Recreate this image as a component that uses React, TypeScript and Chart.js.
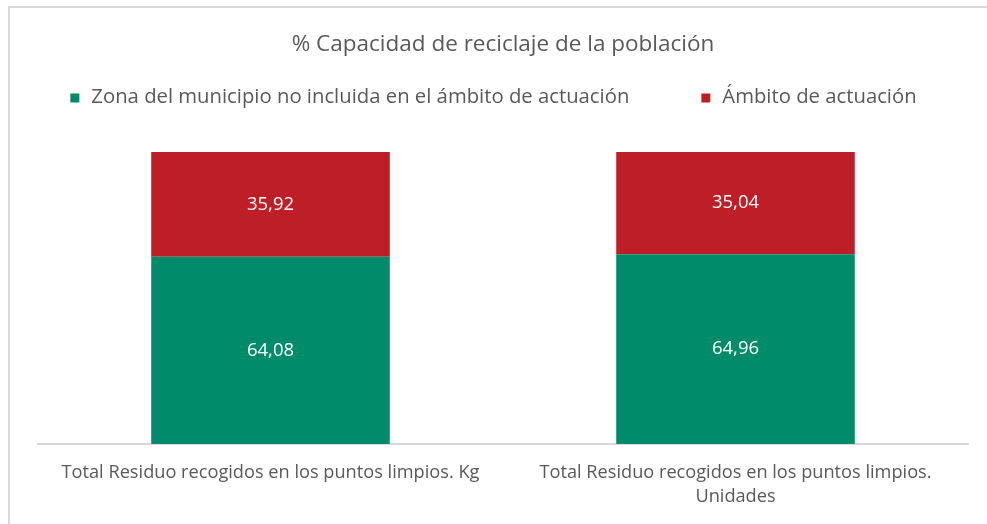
import React, { useEffect, useRef } from "react";
import { Chart, registerables } from "chart.js";

Chart.register(...registerables);

const categories: (string | string[])[] = [
  "Total Residuo recogidos en los puntos limpios. Kg",
  ["Total Residuo recogidos en los puntos limpios.", "Unidades"],
];
const seriesNames = [
  "Zona del municipio no incluida en el ámbito de actuación",
  "Ámbito de actuación",
];
const zonaValues = [64.08, 64.96];
const ambitoValues = [35.92, 35.04];
const seriesColors = ["#008B6A", "#BE1F26"];
const titleText = "% Capacidad de reciclaje de la población";

const FONT = "'Open Sans', sans-serif";

const valueLabels = {
  id: "valueLabels",
  afterDatasetsDraw(chart: any) {
    const ctx = chart.ctx;
    ctx.save();
    ctx.fillStyle = "#ffffff";
    ctx.font = `18.5px ${FONT}`;
    ctx.textAlign = "center";
    ctx.textBaseline = "middle";
    chart.data.datasets.forEach((ds: any, i: number) => {
      const meta = chart.getDatasetMeta(i);
      meta.data.forEach((bar: any, j: number) => {
        const v = ds.data[j] as number;
        const y = (bar.y + bar.base) / 2;
        ctx.fillText(v.toFixed(2).replace(".", ","), bar.x, y);
      });
    });
    ctx.restore();
  },
};

const customLegend = {
  id: "customLegend",
  afterDraw(chart: any) {
    const ctx = chart.ctx;
    const box = 9;
    const gapText = 12;
    const gapItems = 72;
    ctx.save();
    ctx.font = `20.3px ${FONT}`;
    ctx.textBaseline = "middle";
    ctx.textAlign = "left";
    const widths = seriesNames.map((n) => box + gapText + ctx.measureText(n).width);
    const total = widths.reduce((a, b) => a + b, 0) + gapItems * (widths.length - 1);
    let x = chart.width / 2 - total / 2;
    const y = chart.chartArea.top - 55;
    seriesNames.forEach((n, i) => {
      ctx.fillStyle = seriesColors[i];
      ctx.fillRect(x, y - box / 2 + 1, box, box);
      ctx.fillStyle = "#595959";
      ctx.fillText(n, x + box + gapText, y);
      x += widths[i] + gapItems;
    });
    ctx.restore();
  },
};

export default function App() {
  const ref = useRef<HTMLCanvasElement>(null);
  useEffect(() => {
    if (!ref.current) return;
    const chart = new Chart(ref.current, {
      type: "bar",
      data: {
        labels: categories,
        datasets: [
          {
            label: seriesNames[0],
            data: zonaValues,
            backgroundColor: seriesColors[0],
            categoryPercentage: 1,
            barPercentage: 0.513,
          },
          {
            label: seriesNames[1],
            data: ambitoValues,
            backgroundColor: seriesColors[1],
            categoryPercentage: 1,
            barPercentage: 0.513,
          },
        ],
      },
      options: {
        animation: false,
        responsive: false,
        maintainAspectRatio: false,
        layout: { padding: { left: 38, right: 19, top: 0, bottom: -2 } },
        plugins: {
          legend: { display: false },
          tooltip: { enabled: false },
          title: {
            display: true,
            text: titleText,
            color: "#595959",
            font: { family: FONT, size: 22.5, weight: "normal" },
            padding: { top: 31, bottom: 94 },
          },
        },
        scales: {
          x: {
            stacked: true,
            grid: { display: false, drawTicks: false },
            border: { display: true, color: "#d9d9d9", width: 2 },
            ticks: {
              color: "#595959",
              font: { family: FONT, size: 18.2, lineHeight: 1.32 },
              padding: 17,
              maxRotation: 0,
              autoSkip: false,
            },
          },
          y: {
            stacked: true,
            display: false,
            min: 0,
            max: 100,
          },
        },
      },
      plugins: [valueLabels, customLegend],
    });
    return () => chart.destroy();
  }, []);
  return (
    <div
      style={{
        position: "fixed",
        left: 0,
        top: 0,
        width: 987,
        height: 524,
        overflow: "hidden",
        background: "#ffffff",
      }}
    >
      <div
        style={{
          position: "absolute",
          left: 8,
          top: 6,
          width: 1200,
          height: 1200,
          borderLeft: "2px solid #d9d9d9",
          borderTop: "2px solid #d9d9d9",
        }}
      />
      <canvas
        ref={ref}
        width={987}
        height={524}
        style={{ position: "absolute", left: 0, top: 0, width: 987, height: 524 }}
      />
    </div>
  );
}
